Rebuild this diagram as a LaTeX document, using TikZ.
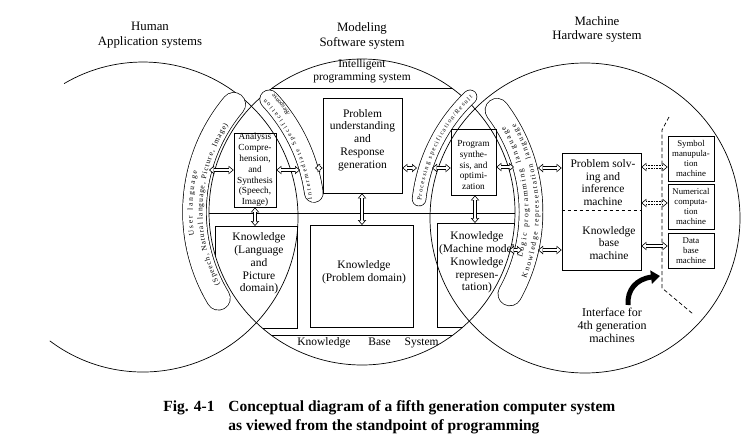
\documentclass[tikz,border=0pt]{standalone}
\usepackage{fontspec}
\setmainfont{Liberation Serif}
\usetikzlibrary{arrows.meta,calc,decorations.text}
\newcommand\bandfont{\fontsize{7.5}{8}\selectfont}
\newcommand\bandfontb{\fontsize{6.3}{7}\selectfont}
\begin{document}
\begin{tikzpicture}[x=1pt,y=-1pt,line width=0.7pt,
  box/.style={draw,line width=0.8pt,inner sep=0pt},
  txt/.style={align=center,inner sep=0pt,font=\fontsize{11.5}{12.8}\selectfont},
  stxt/.style={align=center,inner sep=0pt,font=\fontsize{9.3}{10.8}\selectfont},
  ttxt/.style={align=center,inner sep=0pt,font=\fontsize{8.8}{10}\selectfont},
  head/.style={align=center,inner sep=0pt,font=\fontsize{12.8}{14.5}\selectfont},
  capt/.style={inner sep=0pt,font=\fontsize{15.5}{18}\selectfont\bfseries},
  hollow/.style={line width=3.8pt,
    {Triangle[length=5pt,width=8.5pt,line width=0pt]}-{Triangle[length=5pt,width=8.5pt,line width=0pt]},
    postaction={draw=white,line width=2.3pt,shorten <=1.2pt,shorten >=1.2pt,
    {Triangle[length=3.3pt,width=5.6pt,line width=0pt]}-{Triangle[length=3.3pt,width=5.6pt,line width=0pt]}}},
  hollowtip/.style={line width=3.8pt,
    -{Triangle[length=5pt,width=8.5pt,line width=0pt]},
    postaction={draw=white,line width=2.3pt,shorten >=1.2pt,
    -{Triangle[length=3.3pt,width=5.6pt,line width=0pt]}}},
  dotpair/.style={double,double distance=2.2pt,line width=0.6pt,densely dotted,shorten <=4.5pt,shorten >=4.5pt},
  bandline/.style={line width=#1,line cap=round},
]
\useasboundingbox (0,0) rectangle (750,437);
\coordinate (L) at (143,217);
\coordinate (M) at (362,212);
\coordinate (R) at (585,218);

% circles
\draw ($(L)+(-233:155)$) arc[start angle=-233,end angle=-480.6,radius=155];
\draw (M) circle[radius=153];
\draw (R) circle[radius=155];

% chords and clipped knowledge boxes
\begin{scope}
  \clip (M) circle[radius=153];
  \draw (200,88) -- (530,88);
  \draw (200,213) -- (530,213);
  \draw (200,335) -- (530,335);
  \draw[line width=0.8pt] (215,226) rectangle (297,328);
  \draw[line width=0.8pt] (437,223) rectangle (518,327);
\end{scope}

% bands
\draw[bandline=24.4pt] ($(M)+(-211:167.5)$) arc[start angle=-211,end angle=-140,radius=167.5];
\draw[bandline=23pt,white] ($(M)+(-211:167.5)$) arc[start angle=-211,end angle=-140,radius=167.5];
\draw[bandline=24.4pt] ($(M)+(29:169)$) arc[start angle=29,end angle=-37,radius=169];
\draw[bandline=23pt,white] ($(M)+(29:169)$) arc[start angle=29,end angle=-37,radius=169];
\draw[bandline=19.4pt] ($(L)+(-8:172.5)$) arc[start angle=-8,end angle=-43,radius=172.5];
\draw[bandline=18pt,white] ($(L)+(-8:172.5)$) arc[start angle=-8,end angle=-43,radius=172.5];
\draw[bandline=14.4pt] ($(R)+(-173.5:167)$) arc[start angle=-173.5,end angle=-133.5,radius=167];
\draw[bandline=13pt,white] ($(R)+(-173.5:167)$) arc[start angle=-173.5,end angle=-133.5,radius=167];

% band texts
\path[decorate,decoration={text along path,text={|\bandfont|User language},text align=fit to path}]
  ($(M)+(-188:169.5)$) arc[start angle=-188,end angle=-166,radius=169.5];
\path[decorate,decoration={text along path,text={|\bandfont|(Speech, Natural language, Picture, Image)},text align=fit to path}]
  ($(M)+(-207:159.5)$) arc[start angle=-207,end angle=-147,radius=159.5];
\path[decorate,decoration={text along path,text={|\bandfont|Logic programming language},text align=fit to path}]
  ($(M)+(16:166.5)$) arc[start angle=16,end angle=-31,radius=166.5];
\path[decorate,decoration={text along path,text={|\bandfont|Knowledge representation language},text align=fit to path}]
  ($(M)+(22:177)$) arc[start angle=22,end angle=-30,radius=177];
\path[decorate,decoration={text along path,text={|\bandfontb|Intermediate Specification},text align=fit to path}]
  ($(L)+(-6:170)$) arc[start angle=-6,end angle=-44,radius=170];
\path[decorate,decoration={text along path,text={|\bandfontb|/Response},text align=fit to path}]
  ($(L)+(-35:179.8)$) arc[start angle=-35,end angle=-43,radius=179.8];
\path[decorate,decoration={text along path,text={|\bandfontb|Processing specification/Result},text align=fit to path}]
  ($(R)+(-174:164.5)$) arc[start angle=-174,end angle=-133,radius=164.5];

% boxes
\node[box,stxt,minimum width=42,minimum height=74] (ana) at (255,170)
  {Analysis\\Compre-\\hension,\\and\\Synthesis\\(Speech,\\Image)};
\node[box,minimum width=79,minimum height=95] (pur) at (362.5,145.5) {};
\node[txt] (purt) at (362.5,140) {Problem\\understanding\\and\\Response\\generation};
\node[box,minimum width=45,minimum height=66] (pso) at (473.5,162) {};
\node[stxt] (psot) at (473.5,165) {Program\\synthe-\\sis, and\\optimi-\\zation};
\node[box,minimum width=103,minimum height=102] (kpd) at (361.5,276) {};
\node[txt] (kpdt) at (364,272) {Knowledge\\(Problem domain)};
\node[txt] (klpt) at (259,263.5) {Knowledge\\(Language\\and\\Picture\\domain)};
\node[txt] (kmmt) at (477,262.5) {Knowledge\\(Machine model\\Knowledge\\represen-\\tation)};
\node[box,minimum width=79,minimum height=117] (psm) at (601.5,211.5) {};
\node[txt] (psmt) at (603,182.5) {Problem solv-\\ing and\\inference\\machine};
\node[txt] (kbmt) at (609,243) {Knowledge\\base\\machine};
\coordinate (dv) at (0,210);
\draw[dashed] (psm.west |- dv) -- (psm.east |- dv);
\node[box,ttxt,minimum width=46,minimum height=45] (sym) at (691,158.5) {Symbol\\manupula-\\tion\\machine};
\node[box,ttxt,minimum width=46,minimum height=45] (num) at (691,206.5) {Numerical\\computa-\\tion\\machine};
\node[box,ttxt,minimum width=46,minimum height=35] (dbm) at (691,250.5) {Data\\base\\machine};

% labels
\node[head] (hum) at (150,35) {Human\\Application systems};
\node[head] (mod) at (362,36) {Modeling\\Software system};
\node[head] (mac) at (597,29.5) {Machine\\Hardware system};
\node[txt] (ips) at (362,71.5) {Intelligent\\programming system};
\node[txt] (kbs) at (368,343) {Knowledge\hspace{18pt}Base\hspace{14pt}System};
\node[txt,font=\fontsize{12}{13}\selectfont] (intf) at (612,325) {Interface for\\4th generation\\machines};
\node[capt,anchor=base west] (fig) at (163,411.5) {Fig. 4-1};
\node[capt,anchor=base west] (cap1) at (228,411.5) {Conceptual diagram of a fifth generation computer system};
\node[capt,anchor=base west] (cap2) at (228,430) {as viewed from the standpoint of programming};

% interface line
\coordinate (if1) at (669,117);
\coordinate (if2) at (662,130);
\coordinate (if3) at (662,288);
\coordinate (if4) at (693,314);
\draw[dash pattern=on 4pt off 2.5pt] (if1) -- (if2) -- (if3) -- (if4);

% arrows
\coordinate (ub) at (209,170);
\coordinate (ib1) at (300,170);
\coordinate (ib2) at (315,168);
\coordinate (pb1) at (417,168);
\coordinate (pb2) at (432,168);
\coordinate (lb1) at (514,167);
\coordinate (lb2) at (538,168);
\coordinate (kmr) at (509,250);
\coordinate (lb3) at (522,250);
\coordinate (lb4) at (538,250);
\coordinate (klpn) at (0,226);
\coordinate (kpdn) at (362,225);
\coordinate (kmmn) at (475,223);
\coordinate (da1) at (0,167);
\coordinate (da2) at (0,203);
\coordinate (da3) at (0,246);
\draw[hollow] (ub) -- (ana.west);
\draw[hollow] (ana.east) -- (ib1);
\draw[hollow] (ib2) -- (pur.west |- ib2);
\draw[hollow] (pur.east |- pb1) -- (pb1);
\draw[hollow] (pb2) -- (pso.west |- pb2);
\draw[hollow] (pso.east |- lb1) -- (lb1);
\draw[hollow] (lb2) -- (psm.west |- lb2);
\draw[hollow] (kmr) -- (lb3);
\draw[hollow] (lb4) -- (psm.west |- lb4);
\draw[hollow] (ana.south) -- (ana.south |- klpn);
\draw[hollow] (pur.south -| kpdn) -- (kpdn);
\draw[hollow] (pso.south -| kmmn) -- (kmmn);
\draw[hollow] (psm.east |- da3) -- (dbm.west |- da3);
\draw[dotpair] (psm.east |- da1) -- (sym.west |- da1);
\draw[hollowtip] ($(psm.east |- da1)+(5.5,0)$) -- (psm.east |- da1);
\draw[hollowtip] ($(sym.west |- da1)+(-5.5,0)$) -- (sym.west |- da1);
\draw[dotpair] (psm.east |- da2) -- (num.west |- da2);
\draw[hollowtip] ($(psm.east |- da2)+(5.5,0)$) -- (psm.east |- da2);
\draw[hollowtip] ($(num.west |- da2)+(-5.5,0)$) -- (num.west |- da2);

% black curved arrow
\coordinate (ia1) at (628,305);
\coordinate (ia2) at (660,276);
\draw[line width=5pt,-{Triangle[length=9pt,width=13pt]}] (ia1) .. controls (627,290) and (636,279) .. (ia2);
\end{tikzpicture}
\end{document}
